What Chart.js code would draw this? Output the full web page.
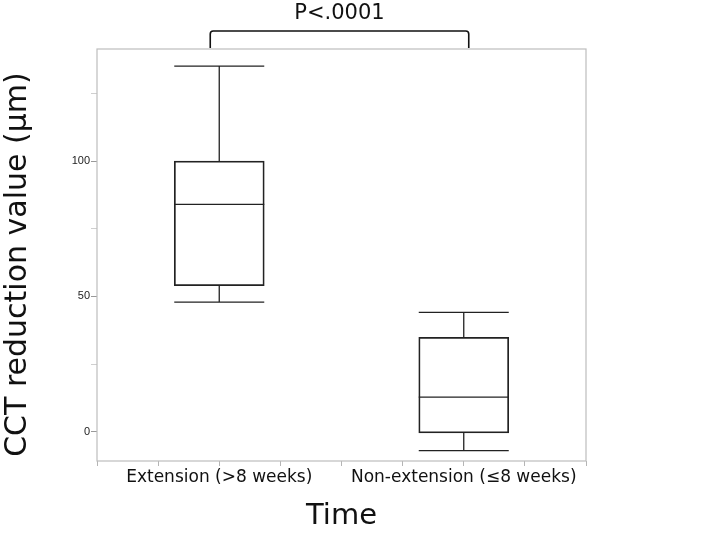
<!DOCTYPE html>
<html>
<head>
<meta charset="utf-8">
<script src="https://cdn.jsdelivr.net/npm/chart.js@4.4.1/dist/chart.umd.min.js"></script>
<style>
  html, body { margin: 0; padding: 0; background: #fff; }
  #wrap { width: 716px; height: 534px; }
</style>
</head>
<body>
<div id="wrap"><canvas id="boxChart"></canvas></div>
<script>
// 그룹 이름과 박스플롯 값
const groups = ['Extension (>8 weeks)', 'Non-extension (≤8 weeks)'];
const groupPos = [0.5, 1.5];
const whiskerMin = [47.9, -7.0];
const q1 = [54.0, -0.4];
const median = [84.0, 12.8];
const q3 = [100.0, 34.9];
const whiskerMax = [135.1, 44.1];
const pLabel = 'P<.0001';

const yMin = -10.8, yMax = 141.4;

// 박스 안의 중앙값, 수염, 프레임, 괄호를 그리는 플러그인
const boxPlugin = {
    id: 'boxPlugin',
    beforeDatasetsDraw(chart) {
        const { ctx, chartArea: a } = chart;
        ctx.save();
        ctx.strokeStyle = '#bdbdbd';
        ctx.lineWidth = 1.2;
        ctx.strokeRect(a.left, a.top, a.right - a.left, a.bottom - a.top);
        ctx.restore();
    },
    afterDatasetsDraw(chart) {
        const { ctx } = chart;
        const y = chart.scales.y;
        const meta = chart.getDatasetMeta(0);
        ctx.save();
        ctx.strokeStyle = '#222';
        ctx.lineWidth = 1.3;
        meta.data.forEach((bar, i) => {
            const half = bar.width / 2;
            const line = (x1, y1, x2, y2) => {
                ctx.beginPath();
                ctx.moveTo(x1, y1);
                ctx.lineTo(x2, y2);
                ctx.stroke();
            };
            // 중앙값
            line(bar.x - half, y.getPixelForValue(median[i]), bar.x + half, y.getPixelForValue(median[i]));
            // 수염
            line(bar.x, y.getPixelForValue(q3[i]), bar.x, y.getPixelForValue(whiskerMax[i]));
            line(bar.x, y.getPixelForValue(q1[i]), bar.x, y.getPixelForValue(whiskerMin[i]));
            line(bar.x - half, y.getPixelForValue(whiskerMax[i]), bar.x + half, y.getPixelForValue(whiskerMax[i]));
            line(bar.x - half, y.getPixelForValue(whiskerMin[i]), bar.x + half, y.getPixelForValue(whiskerMin[i]));
        });

        // 유의성 괄호
        const x1 = meta.data[0].x - 9;
        const x2 = meta.data[1].x + 5;
        const top = 31, bottom = chart.chartArea.top - 1, r = 3;
        ctx.lineWidth = 1.6;
        ctx.strokeStyle = '#111';
        ctx.beginPath();
        ctx.moveTo(x1, bottom);
        ctx.lineTo(x1, top + r);
        ctx.arcTo(x1, top, x1 + r, top, r);
        ctx.lineTo(x2 - r, top);
        ctx.arcTo(x2, top, x2, top + r, r);
        ctx.lineTo(x2, bottom);
        ctx.stroke();

        ctx.fillStyle = '#111';
        ctx.font = '21px "DejaVu Sans"';
        ctx.textAlign = 'center';
        ctx.textBaseline = 'alphabetic';
        ctx.fillText(pLabel, (x1 + x2) / 2, 19);
        ctx.restore();
    }
};

new Chart(document.getElementById('boxChart'), {
    type: 'bar',
    data: {
        datasets: [{
            data: groupPos.map((x, i) => ({ x: x, y: [q1[i], q3[i]] })),
            backgroundColor: 'rgba(255,255,255,0)',
            borderColor: '#222',
            borderWidth: 1.1,
            borderSkipped: false,
            barThickness: 90
        }]
    },
    options: {
        responsive: true,
        maintainAspectRatio: false,
        animation: false,
        layout: { padding: { top: 49, right: 130, left: 0, bottom: 0 } },
        plugins: {
            legend: { display: false },
            tooltip: { enabled: false }
        },
        scales: {
            x: {
                type: 'linear',
                min: 0,
                max: 2,
                offset: false,
                border: { display: false },
                grid: {
                    display: true,
                    offset: false,
                    drawOnChartArea: false,
                    drawTicks: true,
                    tickLength: 5,
                    tickColor: '#b5b5b5'
                },
                ticks: {
                    stepSize: 0.25,
                    autoSkip: false,
                    maxRotation: 0,
                    minRotation: 0,
                    padding: 1,
                    color: '#111',
                    font: { family: 'DejaVu Sans', size: 17 },
                    callback: (v) => {
                        const idx = groupPos.indexOf(v);
                        return idx >= 0 ? groups[idx] : '';
                    }
                },
                title: {
                    display: true,
                    text: 'Time',
                    color: '#111',
                    font: { family: 'DejaVu Sans', size: 29 },
                    padding: { top: 10, bottom: 0 }
                },
                afterFit(scale) { scale.height = 73; }
            },
            y: {
                min: yMin,
                max: yMax,
                border: { display: false },
                grid: {
                    display: true,
                    drawOnChartArea: false,
                    drawTicks: true,
                    tickLength: 6,
                    tickColor: (c) => (c.tick && c.tick.value % 50 === 0) ? '#999' : '#cfcfcf'
                },
                ticks: {
                    stepSize: 25,
                    includeBounds: false,
                    padding: 1,
                    color: '#222',
                    font: { family: 'Liberation Sans', size: 11 },
                    callback: (v) => v % 50 === 0 ? v : ''
                },
                title: {
                    display: true,
                    // 뒤 공백은 제목을 조금 아래로 옮기기 위한 것
                    text: 'CCT reduction value (μm)  ',
                    color: '#111',
                    font: { family: 'DejaVu Sans', size: 30 },
                    padding: { top: 0, bottom: 0 }
                },
                afterFit(scale) { scale.width = 97; }
            }
        }
    },
    plugins: [boxPlugin]
});
</script>
</body>
</html>
